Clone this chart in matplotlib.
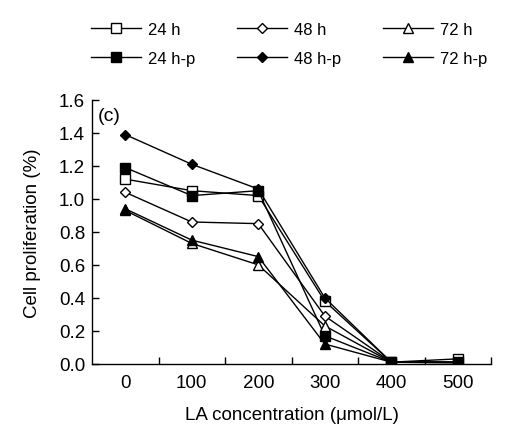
import numpy as np
import matplotlib
matplotlib.use("Agg")
import matplotlib.pyplot as plt
from matplotlib.ticker import FixedLocator, NullFormatter

plt.rcParams["font.family"] = ["Liberation Sans", "DejaVu Sans"]

conc = [0, 100, 200, 300, 400, 500]
h24 = [1.12, 1.05, 1.02, 0.38, 0.01, 0.03]
h48 = [1.04, 0.86, 0.85, 0.29, 0.01, 0.01]
h72 = [0.93, 0.73, 0.60, 0.23, 0.01, 0.01]
h24p = [1.19, 1.02, 1.05, 0.17, 0.01, 0.01]
h48p = [1.39, 1.21, 1.06, 0.40, 0.01, 0.01]
h72p = [0.94, 0.75, 0.65, 0.12, 0.01, 0.005]

series = [
    ("24 h", h24, "s", "white"),
    ("24 h-p", h24p, "s", "black"),
    ("48 h", h48, "D", "white"),
    ("48 h-p", h48p, "D", "black"),
    ("72 h", h72, "^", "white"),
    ("72 h-p", h72p, "^", "black"),
]

fig = plt.figure(figsize=(5.32, 4.39), dpi=100)
ax = fig.add_axes([0.173, 0.169, 0.750, 0.601])

handles = []
for name, vals, mk, fc in series:
    ms = 6.5 if mk != "D" else 5.5
    (ln,) = ax.plot(conc, vals, color="black", lw=1.0, marker=mk, ms=ms,
                    mfc=fc, mec="black", mew=1.0, label=name)
    handles.append(ln)

ax.set_xlim(-50, 550)
ax.set_ylim(0, 1.6)
ax.set_xticks(conc)
ax.set_xticklabels([str(c) for c in conc])
ax.tick_params(axis="x", which="major", length=0, pad=7, labelsize=13.5)
ax.xaxis.set_minor_locator(FixedLocator([50, 150, 250, 350, 450, 550]))
ax.xaxis.set_minor_formatter(NullFormatter())
ax.tick_params(axis="x", which="minor", direction="in", length=5, width=1)
ax.set_yticks(np.arange(0, 1.61, 0.2))
ax.set_yticklabels([f"{v:.1f}" for v in np.arange(0, 1.61, 0.2)])
ax.tick_params(axis="y", direction="in", length=5, width=1, labelsize=13.5, pad=5)
for s in ["top", "right"]:
    ax.spines[s].set_visible(False)
for s in ["left", "bottom"]:
    ax.spines[s].set_linewidth(1.0)

ax.set_xlabel("LA concentration (\u03bcmol/L)", fontsize=13.5, labelpad=11)
ax.set_ylabel("Cell proliferation (%)", fontsize=13.5, labelpad=13)
ax.text(0.015, 0.975, "(c)", transform=ax.transAxes, fontsize=14, va="top", ha="left")

fig.legend(handles=handles, labels=[h.get_label() for h in handles],
           loc="upper left", bbox_to_anchor=(0.143, 0.982), ncol=3,
           frameon=False, handlelength=3.0, columnspacing=2.5,
           labelspacing=0.82, handletextpad=0.42, fontsize=12)

fig.savefig("out.png", dpi=100)
